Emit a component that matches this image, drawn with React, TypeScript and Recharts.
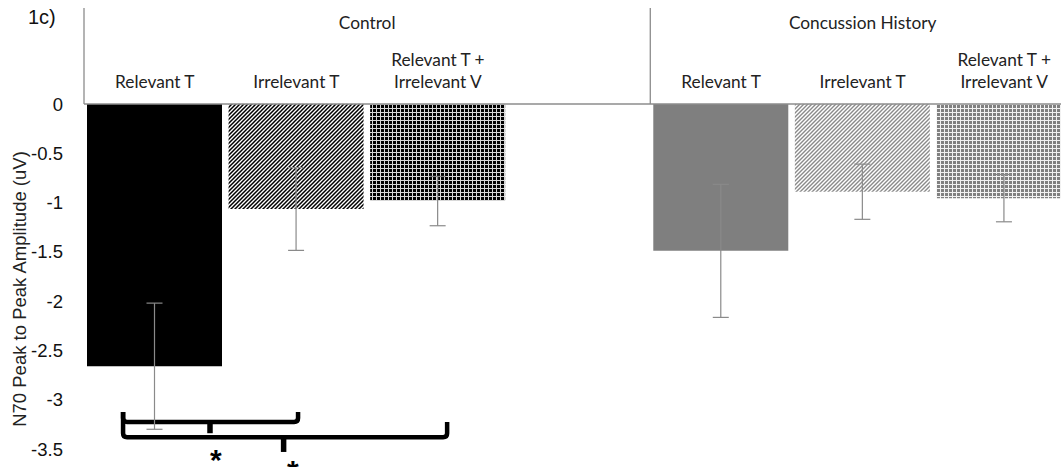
import React from 'react';
import { BarChart, Bar, XAxis, YAxis, Cell, ErrorBar, Customized } from 'recharts';

// ---- data ----
const CATEGORIES = ['C-RT', 'C-IT', 'C-RTIV', 'C-GAP', 'H-RT', 'H-IT', 'H-RTIV'];
const CATEGORY_LABELS: string[][] = [
  ['Relevant T'],
  ['Irrelevant T'],
  ['Relevant T +', 'Irrelevant V'],
  [],
  ['Relevant T'],
  ['Irrelevant T'],
  ['Relevant T +', 'Irrelevant V'],
];
const VALUES: (number | null)[] = [-2.66, -1.065, -0.985, null, -1.49, -0.89, -0.955];
const ERRORS: (number | null)[] = [0.64, 0.42, 0.25, null, 0.675, 0.28, 0.24];
const FILLS = ['#000000', 'url(#hatchDark)', 'url(#gridDark)', 'none', '#7f7f7f', 'url(#hatchLight)', 'url(#gridLight)'];
const GROUPS = ['Control', 'Concussion History'];
const GROUP_START = [0, 4];
const GROUP_SIZE = [4, 3];
const Y_TICKS = [0, -0.5, -1, -1.5, -2, -2.5, -3, -3.5];
const Y_DOMAIN: [number, number] = [-3.5, 0];
const Y_LABEL = 'N70 Peak to Peak Amplitude (uV)';
const PANEL = '1c)';

// significance brackets, in band units (x) and data units (y)
const BRACKET_X = [
  [0.276, 1.512, 0.89],
  [0.276, 2.565, 1.41],
];
const BRACKET_Y = [
  // leftTop, rightTop, bar, tip
  [-3.125, -3.125, -3.225, -3.34],
  [-3.125, -3.225, -3.38, -3.53],
];
const STAR_X = [0.932, 1.476];
const STAR_Y = [-3.53, -3.64];

const data = CATEGORIES.map((c, i) => ({ cat: c, value: VALUES[i], err: ERRORS[i] }));

// ---- layout ----
const W = 1075;
const H = 467;
const LEFT = 84;
const TOP = 104;
const BOTTOM_M = 18;
const PLOT_W = W - LEFT;
const PLOT_H = H - TOP - BOTTOM_M;
const BAND = PLOT_W / CATEGORIES.length;

const yOf = (v: number) => TOP + ((Y_DOMAIN[1] - v) / (Y_DOMAIN[1] - Y_DOMAIN[0])) * PLOT_H;
const xOf = (b: number) => LEFT + b * BAND;

const CAT_FONT = 'Lato, "Open Sans", sans-serif';
const CAT_SIZE = 17.3;
const ARIAL = '"Liberation Sans", Arial, sans-serif';

const CategoryTick = (props: any) => {
  const { x, payload } = props;
  const i = payload.index;
  const lines = CATEGORY_LABELS[i] || [];
  const gi = GROUP_START.indexOf(i);
  const left = x - BAND / 2;
  return (
    <g>
      {lines.length === 1 && (
        <text x={x} y={88} textAnchor="middle" fontFamily={CAT_FONT} fontSize={CAT_SIZE} fill="#222">
          {lines[0]}
        </text>
      )}
      {lines.length === 2 && (
        <text x={x} y={66} textAnchor="middle" fontFamily={CAT_FONT} fontSize={CAT_SIZE} fill="#222">
          <tspan x={x} y={66}>{lines[0]}</tspan>
          <tspan x={x} y={88}>{lines[1]}</tspan>
        </text>
      )}
      {gi >= 0 && (
        <g>
          <line x1={left} y1={8} x2={left} y2={TOP} stroke="#8c8c8c" strokeWidth={1.3} />
          <text x={left + (GROUP_SIZE[gi] * BAND) / 2} y={29} textAnchor="middle" fontFamily={CAT_FONT} fontSize={CAT_SIZE} fill="#222">
            {GROUPS[gi]}
          </text>
        </g>
      )}
    </g>
  );
};

const Overlay = () => (
  <g>
    <text x={28} y={24} fontFamily={ARIAL} fontSize={20} fill="#111">{PANEL}</text>
    <text
      x={19}
      y={289}
      transform="rotate(-90 19 289)"
      textAnchor="middle"
      dominantBaseline="central"
      fontFamily={ARIAL}
      fontSize={18.5}
      fill="#222"
    >
      {Y_LABEL}
    </text>
    {BRACKET_X.map((bx, k) => {
      const [x0, x1, xt] = bx.map(xOf);
      const [ylt, yrt, yb, yt] = BRACKET_Y[k].map(yOf);
      const r = 4;
      const d = `M ${x0} ${ylt} L ${x0} ${yb - r} Q ${x0} ${yb} ${x0 + r} ${yb} L ${x1 - r} ${yb} Q ${x1} ${yb} ${x1} ${yb - r} L ${x1} ${yrt}`;
      return (
        <g key={k}>
          <path d={d} fill="none" stroke="#000" strokeWidth={4.5} strokeLinejoin="round" />
          <line x1={xt} y1={yb} x2={xt} y2={yt} stroke="#000" strokeWidth={5.5} />
        </g>
      );
    })}
    {STAR_X.map((sx, k) => (
      <text key={k} x={xOf(sx)} y={yOf(STAR_Y[k]) + 18} textAnchor="middle" fontFamily={ARIAL} fontWeight="bold" fontSize={30} fill="#000">
        *
      </text>
    ))}
  </g>
);

export default function App() {
  return (
    <div style={{ position: 'fixed', left: 0, top: 0, width: 1061, height: 467, overflow: 'hidden', background: '#fff' }}>
      <BarChart width={W} height={H} data={data} margin={{ top: 0, right: 0, bottom: BOTTOM_M, left: 0 }} barSize={135}>
        <defs>
          <pattern id="hatchDark" patternUnits="userSpaceOnUse" width={4} height={4}>
            <rect width={4} height={4} fill="#fff" />
            <path d="M -1 1 L 1 -1 M 0 4 L 4 0 M 3 5 L 5 3" stroke="#000" strokeWidth={1.5} />
          </pattern>
          <pattern id="hatchLight" patternUnits="userSpaceOnUse" width={4} height={4}>
            <rect width={4} height={4} fill="#fff" />
            <path d="M -1 1 L 1 -1 M 0 4 L 4 0 M 3 5 L 5 3" stroke="#8a8a8a" strokeWidth={1.4} />
          </pattern>
          <pattern id="gridDark" patternUnits="userSpaceOnUse" width={4} height={4}>
            <rect width={4} height={4} fill="#000" />
            <rect x={0} y={0} width={4} height={1} fill="#d8d8d8" />
            <rect x={0} y={0} width={1} height={4} fill="#d8d8d8" />
          </pattern>
          <pattern id="gridLight" patternUnits="userSpaceOnUse" width={4} height={4}>
            <rect width={4} height={4} fill="#808080" />
            <rect x={0} y={0} width={4} height={1} fill="#f2f2f2" />
            <rect x={0} y={0} width={1} height={4} fill="#f2f2f2" />
          </pattern>
        </defs>
        <XAxis
          dataKey="cat"
          orientation="top"
          height={TOP}
          interval={0}
          tickLine={false}
          axisLine={{ stroke: '#8c8c8c', strokeWidth: 1.6 }}
          tick={<CategoryTick />}
        />
        <YAxis
          type="number"
          domain={Y_DOMAIN}
          ticks={Y_TICKS}
          width={LEFT}
          axisLine={false}
          tickLine={false}
          tickSize={0}
          tickMargin={21}
          tick={{ fill: '#111', fontSize: 18.5, fontFamily: ARIAL }}
          allowDataOverflow
        />
        <Bar dataKey="value" isAnimationActive={false}>
          {data.map((d, i) => (
            <Cell key={d.cat} fill={FILLS[i]} />
          ))}
          <ErrorBar dataKey="err" width={8} stroke="#8a8a8a" strokeWidth={1.2} direction="y" />
        </Bar>
        <Customized component={<Overlay />} />
      </BarChart>
    </div>
  );
}
